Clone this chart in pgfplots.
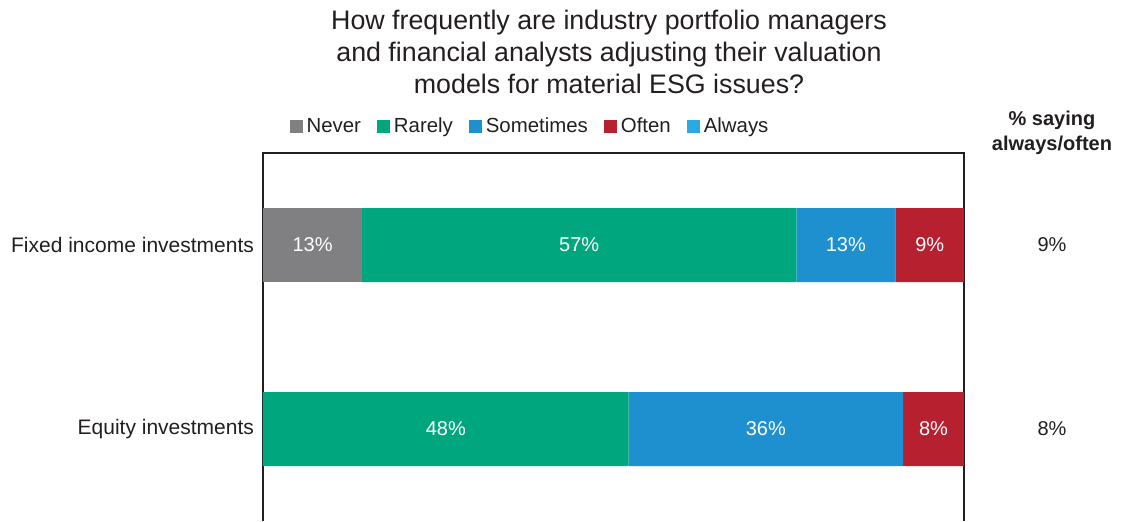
\documentclass[border=0pt]{standalone}
\usepackage{pgfplots}
\pgfplotsset{compat=1.18}
\usepackage{pgfplotstable}
\usepackage{fontspec}
\setmainfont{Liberation Sans}
\definecolor{cnever}{HTML}{808083}
\definecolor{crarely}{HTML}{00A77E}
\definecolor{csometimes}{HTML}{1E8FCF}
\definecolor{coften}{HTML}{B7202E}
\definecolor{calways}{HTML}{29ABE2}
\definecolor{ctext}{HTML}{231F20}

\pgfplotstableread{
y never rarely sometimes often always
0 0 48 36 8 0
1 13 57 13 9 0
}\bars

\pgfplotstableread{
x y label
6.5 1 13\%
41.5 1 57\%
76.5 1 13\%
87.5 1 9\%
24 0 48\%
66 0 36\%
88 0 8\%
}\inlabels

\pgfplotstableread{
x y label
103.55 1 9\%
103.55 0 8\%
}\sidelabels

\begin{document}
\begin{tikzpicture}[font=\color{ctext}]
\path[use as bounding box] (-131.5pt,0pt) rectangle (430pt,260.5pt);
\begin{axis}[
  at={(0pt,0pt)}, anchor=south west,
  scale only axis, width=350.5pt, height=184pt,
  xbar stacked, bar width=37pt,
  xmin=0, xmax=92, ymin=-0.5, ymax=1.5,
  axis line style={draw=none},
  xtick=\empty,
  ytick={0,1}, yticklabels={Equity investments, Fixed income investments},
  major tick length=0pt,
  yticklabel style={font=\fontsize{10.5}{12}\selectfont\color{ctext}, xshift=-1pt},
  legend style={at={(0.3823,1.0707)}, anchor=center, draw=none, fill=none,
    legend columns=5, font=\fontsize{10.2}{12}\selectfont\color{ctext},
    /tikz/every even column/.append style={column sep=6pt},
    inner sep=0pt},
  legend image code/.code={\fill[#1] (0pt,-3.25pt) rectangle (6.5pt,3.25pt);},
  clip=false,
]
\addplot[fill=cnever, draw=none] table[x=never, y=y] {\bars};
\addplot[fill=crarely, draw=none] table[x=rarely, y=y] {\bars};
\addplot[fill=csometimes, draw=none] table[x=sometimes, y=y] {\bars};
\addplot[fill=coften, draw=none] table[x=often, y=y] {\bars};
\addplot[fill=calways, draw=none] table[x=always, y=y] {\bars};
\legend{Never, Rarely, Sometimes, Often, Always}
\draw[line width=0.75pt, color=ctext] (rel axis cs:0,0) -- (rel axis cs:0,1) -- (rel axis cs:1,1) -- (rel axis cs:1,0);
\end{axis}
\begin{axis}[
  at={(0pt,0pt)}, anchor=south west,
  scale only axis, width=350.5pt, height=184pt,
  xmin=0, xmax=92, ymin=-0.5, ymax=1.5,
  hide axis, clip=false,
]
\addplot[draw=none, mark=none, nodes near coords, nodes near coords align=center,
  point meta=explicit symbolic,
  every node near coord/.append style={font=\fontsize{10}{12}\selectfont, text=white, anchor=center}]
  table[x=x, y=y, meta=label] {\inlabels};
\addplot[draw=none, mark=none, nodes near coords, nodes near coords align=center,
  point meta=explicit symbolic,
  every node near coord/.append style={font=\fontsize{10}{12}\selectfont, text=ctext, anchor=center}]
  table[x=x, y=y, meta=label] {\sidelabels};
\end{axis}
\node[align=center, font=\fontsize{13.4}{16}\selectfont\color{ctext}] at (173pt,234.5pt)
  {How frequently are industry portfolio managers\\and financial analysts adjusting their valuation\\models for material ESG issues?};
\node[align=center, font=\bfseries\fontsize{10}{12.5}\selectfont\color{ctext}] at (394.5pt,194.25pt)
  {\% saying\\always/often};
\end{tikzpicture}
\end{document}
